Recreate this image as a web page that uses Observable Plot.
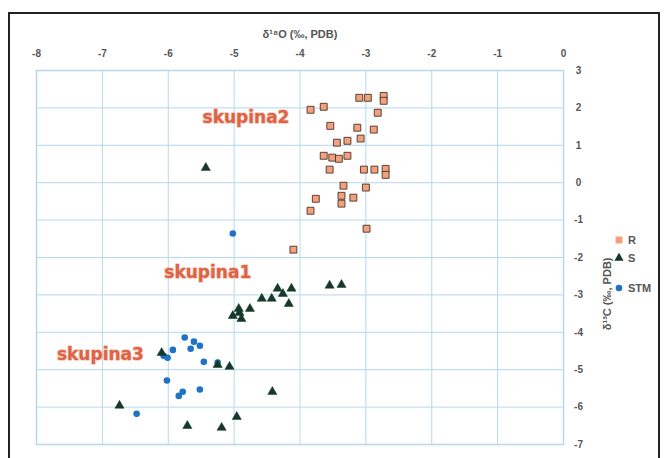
<!DOCTYPE html>
<html><head><meta charset="utf-8">
<script src="https://cdn.jsdelivr.net/npm/d3@7"></script>
<script src="https://cdn.jsdelivr.net/npm/@observablehq/plot@0.6"></script>
<style>
body{margin:0;background:#fff;font-family:"Liberation Sans",Arial,sans-serif}
#wrap{position:relative;width:668px;height:458px;overflow:hidden}
#border{position:absolute;left:8px;top:12px;width:652px;height:470px;border:2px solid #222;box-sizing:border-box;pointer-events:none}
#legend{position:absolute;left:613px;top:232px;font-size:11px;color:#555;font-weight:bold}
#legend .item{display:flex;align-items:center;height:16px}
#legend svg{margin-right:3px}
</style></head>
<body><div id="wrap"><div id="chart"></div><div id="legend"></div><div id="border"></div></div>
<script>
// δ18O (x) and δ13C (y) values per series
const seriesNames = ["R", "S", "STM"];
const rX = [-3.84,-3.64,-3.10,-2.97,-2.73,-2.73,-2.82,-3.54,-3.13,-2.88,-3.44,-3.28,-3.08,-3.64,-3.51,-3.41,-3.28,-3.55,-3.03,-2.87,-2.70,-2.70,-3.34,-3.00,-3.76,-3.37,-3.37,-3.19,-3.84,-2.99,-4.10];
const rY = [1.95,2.03,2.27,2.27,2.32,2.19,1.87,1.52,1.47,1.42,1.07,1.12,1.18,0.72,0.67,0.64,0.72,0.35,0.35,0.35,0.37,0.21,-0.08,-0.13,-0.43,-0.35,-0.56,-0.40,-0.75,-1.23,-1.79];
const sX = [-5.43,-5.02,-4.93,-4.92,-4.89,-4.76,-4.58,-4.43,-4.34,-4.26,-4.13,-4.17,-3.55,-3.37,-6.10,-5.25,-5.07,-4.42,-6.74,-4.96,-5.71,-5.19];
const sY = [0.40,-3.56,-3.37,-3.48,-3.64,-3.37,-3.10,-3.10,-2.83,-2.97,-2.83,-3.24,-2.75,-2.73,-4.55,-4.87,-4.92,-5.59,-5.96,-6.26,-6.50,-6.55];
const stmX = [-5.02,-5.75,-5.61,-5.52,-5.66,-5.93,-6.07,-6.01,-5.46,-5.25,-6.02,-5.52,-5.78,-5.84,-6.48];
const stmY = [-1.36,-4.14,-4.25,-4.36,-4.44,-4.47,-4.63,-4.68,-4.79,-4.81,-5.29,-5.53,-5.59,-5.70,-6.18];
const groupLabels = ["skupina2", "skupina1", "skupina3"];
const groupX = [-4.82, -5.40, -7.03];
const groupY = [1.74, -2.41, -4.60];
const xTicks = [-8,-7,-6,-5,-4,-3,-2,-1,0];
const yTicks = [3,2,1,0,-1,-2,-3,-4,-5,-6,-7];
const xTitle = "δ¹⁸O (‰, PDB)";
const yTitle = "δ¹³C (‰, PDB)";

const styles = {
  R:   {symbol: "square",   fill: "#f3a07c", stroke: "#4a3328", r: 3.9, strokeWidth: 0.9},
  S:   {symbol: "triangle", fill: "#163828", stroke: "#163828", r: 3.4, strokeWidth: 0.5},
  STM: {symbol: "circle",   fill: "#1f72c4", stroke: "none",   r: 3.3, strokeWidth: 0}
};
const mk = (xs, ys) => xs.map((x, i) => ({x, y: ys[i]}));
const R = mk(rX, rY), S = mk(sX, sY), STM = mk(stmX, stmY);
const groups = groupLabels.map((t, i) => ({t, x: groupX[i], y: groupY[i]}));
const grid = "#b3d8ee";

const chart = Plot.plot({
  width: 668, height: 458,
  marginLeft: 36, marginRight: 105, marginTop: 70, marginBottom: 14,
  style: {background: "transparent", fontFamily: "Liberation Sans, Arial, sans-serif"},
  x: {domain: [-8, 0], ticks: xTicks, axis: null},
  y: {domain: [-7, 3], ticks: yTicks, axis: null},
  marks: [
    Plot.gridX(xTicks, {stroke: grid, strokeOpacity: 1, strokeWidth: 1}),
    Plot.gridY(yTicks, {stroke: grid, strokeOpacity: 1, strokeWidth: 1}),
    Plot.frame({stroke: grid, strokeWidth: 1.5}),
    Plot.axisX({anchor: "top", ticks: xTicks, tickSize: 0, tickPadding: 14, label: null,
      fontSize: 10, fontWeight: "bold", fill: "#555", tickFormat: d => String(d)}),
    Plot.axisY({anchor: "right", ticks: yTicks, tickSize: 0, tickPadding: 15, label: null,
      fontSize: 10, fontWeight: "bold", fill: "#555", textAnchor: "middle", tickFormat: d => String(d)}),
    Plot.text([xTitle], {frameAnchor: "top", dy: -40, fontSize: 11, fontWeight: "bold", fill: "#555"}),
    Plot.text([yTitle], {frameAnchor: "right", dx: 44, rotate: -90, fontSize: 11, fontWeight: "bold", fill: "#555"}),
    Plot.dot(R, {x: "x", y: "y", ...styles.R}),
    Plot.dot(STM, {x: "x", y: "y", ...styles.STM}),
    Plot.dot(S, {x: "x", y: "y", ...styles.S}),
    Plot.text(groups, {x: "x", y: "y", text: "t", fontSize: 17, fontWeight: "bold",
      fontFamily: "DejaVu Sans, sans-serif", fill: "#dc6444", stroke: "#f0a08a", strokeWidth: 1.6, strokeOpacity: 0.6, paintOrder: "stroke"})
  ]
});
document.getElementById("chart").appendChild(chart);

// legend
const leg = d3.select("#legend");
const gaps = {R: 0, S: 2, STM: 14};
seriesNames.forEach(n => {
  const st = styles[n];
  const item = leg.append("div").attr("class", "item").style("margin-top", gaps[n] + "px");
  const svg = item.append("svg").attr("width", 12).attr("height", 12);
  const sym = d3.symbol().type({square: d3.symbolSquare, triangle: d3.symbolTriangle, circle: d3.symbolCircle}[st.symbol]).size(Math.PI * st.r * st.r);
  svg.append("path").attr("d", sym()).attr("transform", "translate(6,6)")
    .attr("fill", n === "R" ? "#f3a07c" : st.fill).attr("stroke", "none");
  item.append("span").text(n);
});
</script></body></html>
